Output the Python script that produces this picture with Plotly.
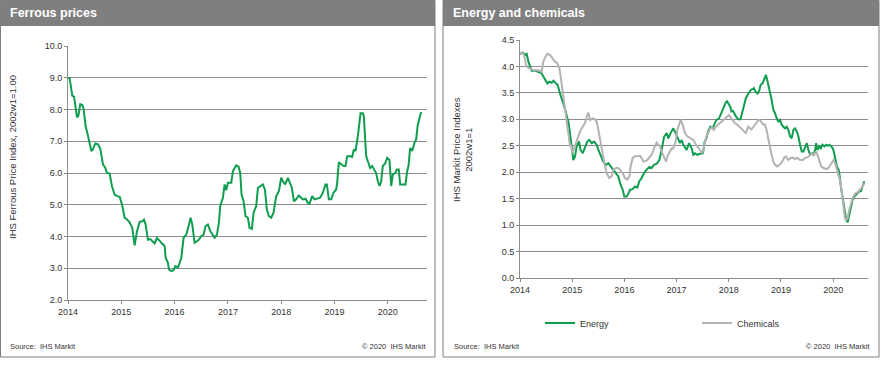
import plotly.graph_objects as go

# ---------------- data ----------------
ferrous_year = [
    2014.000, 2014.031, 2014.081, 2014.113, 2014.169, 2014.194, 2014.231, 2014.269, 2014.294, 2014.331,
    2014.375, 2014.438, 2014.469, 2014.513, 2014.563, 2014.606, 2014.656, 2014.700, 2014.731, 2014.781,
    2014.825, 2014.875, 2014.919, 2014.969, 2015.013, 2015.063, 2015.094, 2015.156, 2015.206, 2015.250,
    2015.294, 2015.344, 2015.394, 2015.425, 2015.456, 2015.500, 2015.544, 2015.594, 2015.625, 2015.669,
    2015.719, 2015.769, 2015.813, 2015.831, 2015.875, 2015.894, 2015.938, 2015.981, 2016.013, 2016.063,
    2016.094, 2016.125, 2016.169, 2016.219, 2016.263, 2016.300, 2016.331, 2016.375, 2016.419, 2016.456,
    2016.500, 2016.544, 2016.581, 2016.625, 2016.669, 2016.719, 2016.750, 2016.794, 2016.831, 2016.856,
    2016.906, 2016.938, 2016.969, 2017.000, 2017.063, 2017.094, 2017.156, 2017.200, 2017.231, 2017.256,
    2017.294, 2017.331, 2017.375, 2017.406, 2017.450, 2017.481, 2017.531, 2017.563, 2017.606, 2017.656,
    2017.694, 2017.731, 2017.769, 2017.813, 2017.856, 2017.906, 2017.956, 2018.000, 2018.031, 2018.075,
    2018.125, 2018.156, 2018.200, 2018.238, 2018.281, 2018.331, 2018.375, 2018.406, 2018.456, 2018.500,
    2018.531, 2018.581, 2018.625, 2018.688, 2018.731, 2018.781, 2018.831, 2018.856, 2018.894, 2018.938,
    2018.981, 2019.031, 2019.050, 2019.081, 2019.125, 2019.169, 2019.206, 2019.238, 2019.281, 2019.331,
    2019.363, 2019.394, 2019.438, 2019.469, 2019.488, 2019.531, 2019.550, 2019.575, 2019.594, 2019.625,
    2019.669, 2019.706, 2019.750, 2019.781, 2019.813, 2019.844, 2019.875, 2019.906, 2019.950, 2019.988,
    2020.031, 2020.063, 2020.094, 2020.138, 2020.169, 2020.206, 2020.231, 2020.281, 2020.331, 2020.363,
    2020.388, 2020.419, 2020.456, 2020.500, 2020.531, 2020.563, 2020.594, 2020.625,
]
ferrous_value = [
    9.00, 8.98, 8.43, 8.41, 7.75, 7.80, 8.17, 8.14, 8.01, 7.47,
    7.17, 6.69, 6.75, 6.93, 6.90, 6.76, 6.27, 6.16, 6.00, 5.98,
    5.58, 5.32, 5.27, 5.25, 5.01, 4.59, 4.56, 4.45, 4.27, 3.72,
    4.16, 4.46, 4.48, 4.53, 4.38, 3.90, 3.92, 3.83, 3.78, 3.96,
    3.85, 3.77, 3.70, 3.33, 3.17, 2.96, 2.91, 2.94, 3.07, 3.03,
    3.17, 3.33, 3.96, 4.06, 4.33, 4.59, 4.38, 3.80, 3.85, 3.90,
    4.01, 4.06, 4.33, 4.38, 4.17, 4.06, 3.96, 4.06, 4.43, 4.96,
    5.22, 5.64, 5.46, 5.69, 5.69, 6.06, 6.24, 6.20, 6.00, 5.32,
    5.11, 4.64, 4.59, 4.27, 4.24, 4.75, 4.96, 5.53, 5.59, 5.64,
    5.48, 4.85, 4.64, 4.59, 4.75, 5.27, 5.43, 5.85, 5.74, 5.64,
    5.85, 5.74, 5.53, 5.11, 5.17, 5.29, 5.22, 5.17, 5.19, 5.06,
    5.04, 5.27, 5.17, 5.19, 5.22, 5.38, 5.64, 5.64, 5.17, 5.17,
    5.38, 5.48, 5.69, 6.34, 6.27, 6.22, 6.22, 6.53, 6.53, 6.51,
    6.74, 6.69, 7.16, 7.53, 7.88, 7.88, 7.79, 7.06, 6.53, 6.37,
    6.16, 6.22, 6.06, 6.00, 5.74, 5.59, 5.74, 6.22, 6.30, 6.48,
    6.41, 5.59, 5.95, 6.00, 6.11, 6.11, 5.64, 5.64, 5.64, 6.06,
    6.22, 6.79, 6.69, 6.95, 7.06, 7.53, 7.74, 7.92,
]

energy_year = [
    2014.000, 2014.051, 2014.096, 2014.128, 2014.160, 2014.192, 2014.224, 2014.287, 2014.351, 2014.415,
    2014.447, 2014.492, 2014.524, 2014.562, 2014.607, 2014.639, 2014.683, 2014.722, 2014.766, 2014.811,
    2014.849, 2014.881, 2014.926, 2014.958, 2014.990, 2015.022, 2015.054, 2015.086, 2015.130, 2015.162,
    2015.201, 2015.245, 2015.290, 2015.328, 2015.373, 2015.418, 2015.469, 2015.501, 2015.545, 2015.596,
    2015.648, 2015.692, 2015.737, 2015.788, 2015.839, 2015.884, 2015.929, 2015.967, 2015.999, 2016.043,
    2016.075, 2016.107, 2016.158, 2016.203, 2016.248, 2016.286, 2016.331, 2016.375, 2016.427, 2016.478,
    2016.522, 2016.567, 2016.618, 2016.669, 2016.714, 2016.759, 2016.810, 2016.842, 2016.886, 2016.937,
    2016.982, 2017.033, 2017.065, 2017.097, 2017.129, 2017.193, 2017.238, 2017.289, 2017.321, 2017.352,
    2017.397, 2017.448, 2017.506, 2017.538, 2017.571, 2017.603, 2017.647, 2017.686, 2017.731, 2017.763,
    2017.814, 2017.840, 2017.878, 2017.904, 2017.942, 2017.968, 2018.006, 2018.032, 2018.051, 2018.083,
    2018.128, 2018.179, 2018.224, 2018.263, 2018.295, 2018.327, 2018.359, 2018.391, 2018.423, 2018.455,
    2018.481, 2018.513, 2018.551, 2018.583, 2018.609, 2018.647, 2018.673, 2018.712, 2018.737, 2018.769,
    2018.801, 2018.821, 2018.853, 2018.885, 2018.917, 2018.949, 2018.981, 2019.013, 2019.045, 2019.077,
    2019.109, 2019.141, 2019.173, 2019.205, 2019.237, 2019.269, 2019.301, 2019.333, 2019.365, 2019.397,
    2019.429, 2019.462, 2019.494, 2019.526, 2019.558, 2019.590, 2019.622, 2019.654, 2019.673, 2019.699,
    2019.731, 2019.763, 2019.795, 2019.833, 2019.865, 2019.897, 2019.929, 2019.962, 2019.994, 2020.019,
    2020.051, 2020.071, 2020.103, 2020.122, 2020.147, 2020.179, 2020.212, 2020.244, 2020.276, 2020.308,
    2020.340, 2020.372, 2020.404, 2020.436, 2020.468, 2020.500, 2020.532, 2020.564, 2020.596,
]
energy_value = [
    4.24, 4.26, 4.22, 4.24, 4.09, 3.99, 3.92, 3.92, 3.90, 3.87,
    3.81, 3.74, 3.68, 3.71, 3.69, 3.73, 3.68, 3.65, 3.49, 3.37,
    3.24, 3.12, 2.96, 2.74, 2.52, 2.23, 2.30, 2.49, 2.58, 2.42,
    2.36, 2.49, 2.58, 2.61, 2.55, 2.58, 2.52, 2.42, 2.30, 2.20,
    2.14, 2.17, 2.11, 2.05, 1.98, 1.92, 1.76, 1.67, 1.54, 1.54,
    1.59, 1.67, 1.68, 1.73, 1.71, 1.83, 1.89, 1.98, 2.05, 2.10,
    2.08, 2.14, 2.16, 2.23, 2.42, 2.67, 2.74, 2.64, 2.74, 2.83,
    2.74, 2.64, 2.55, 2.61, 2.52, 2.42, 2.55, 2.45, 2.33, 2.36,
    2.33, 2.35, 2.36, 2.58, 2.64, 2.77, 2.86, 2.83, 2.93, 2.99,
    3.02, 3.08, 3.18, 3.24, 3.32, 3.34, 3.27, 3.23, 3.15, 3.16,
    3.07, 3.00, 3.00, 3.15, 3.27, 3.40, 3.46, 3.52, 3.56, 3.57,
    3.59, 3.52, 3.49, 3.54, 3.65, 3.68, 3.74, 3.84, 3.74, 3.62,
    3.46, 3.37, 3.18, 3.12, 3.02, 2.96, 2.99, 2.90, 2.86, 2.83,
    2.86, 2.80, 2.68, 2.64, 2.80, 2.83, 2.77, 2.68, 2.52, 2.39,
    2.39, 2.49, 2.55, 2.42, 2.33, 2.36, 2.33, 2.42, 2.55, 2.42,
    2.49, 2.45, 2.52, 2.49, 2.52, 2.50, 2.52, 2.49, 2.45, 2.36,
    2.20, 2.11, 2.05, 1.95, 1.73, 1.51, 1.29, 1.13, 1.05, 1.20,
    1.35, 1.48, 1.54, 1.57, 1.61, 1.64, 1.64, 1.73, 1.83,
]

chemicals_year = [
    2014.000, 2014.032, 2014.077, 2014.115, 2014.160, 2014.204, 2014.268, 2014.319, 2014.383, 2014.415,
    2014.447, 2014.492, 2014.524, 2014.575, 2014.626, 2014.671, 2014.715, 2014.754, 2014.779, 2014.811,
    2014.843, 2014.881, 2014.907, 2014.939, 2014.958, 2014.977, 2015.003, 2015.034, 2015.073, 2015.117,
    2015.162, 2015.201, 2015.245, 2015.277, 2015.309, 2015.341, 2015.392, 2015.437, 2015.469, 2015.501,
    2015.533, 2015.564, 2015.596, 2015.628, 2015.660, 2015.711, 2015.756, 2015.788, 2015.839, 2015.884,
    2015.916, 2015.967, 2016.011, 2016.056, 2016.095, 2016.120, 2016.158, 2016.203, 2016.248, 2016.299,
    2016.331, 2016.363, 2016.427, 2016.478, 2016.522, 2016.567, 2016.618, 2016.650, 2016.682, 2016.714,
    2016.759, 2016.797, 2016.822, 2016.861, 2016.905, 2016.937, 2016.982, 2017.014, 2017.052, 2017.078,
    2017.116, 2017.161, 2017.193, 2017.244, 2017.289, 2017.321, 2017.372, 2017.416, 2017.448, 2017.494,
    2017.538, 2017.571, 2017.603, 2017.647, 2017.679, 2017.712, 2017.750, 2017.795, 2017.840, 2017.878,
    2017.923, 2017.968, 2018.006, 2018.032, 2018.071, 2018.115, 2018.160, 2018.212, 2018.256, 2018.295,
    2018.327, 2018.372, 2018.404, 2018.436, 2018.468, 2018.500, 2018.532, 2018.564, 2018.596, 2018.628,
    2018.660, 2018.692, 2018.724, 2018.756, 2018.788, 2018.821, 2018.853, 2018.885, 2018.929, 2018.968,
    2019.013, 2019.058, 2019.096, 2019.141, 2019.186, 2019.224, 2019.269, 2019.314, 2019.365, 2019.417,
    2019.462, 2019.506, 2019.545, 2019.590, 2019.635, 2019.673, 2019.699, 2019.737, 2019.769, 2019.814,
    2019.865, 2019.910, 2019.942, 2019.974, 2020.006, 2020.038, 2020.071, 2020.103, 2020.135, 2020.167,
    2020.199, 2020.224, 2020.244, 2020.276, 2020.308, 2020.340, 2020.372, 2020.404, 2020.436, 2020.468,
    2020.500, 2020.532, 2020.564, 2020.596,
]
chemicals_value = [
    4.22, 4.26, 4.22, 4.03, 3.97, 3.95, 3.93, 3.93, 3.92, 3.90,
    4.09, 4.19, 4.24, 4.22, 4.15, 4.09, 4.06, 3.97, 3.81, 3.59,
    3.34, 3.12, 2.93, 2.64, 2.49, 2.52, 2.36, 2.45, 2.55, 2.67,
    2.80, 2.86, 2.93, 3.04, 3.13, 2.99, 3.02, 3.00, 2.96, 2.80,
    2.61, 2.45, 2.27, 2.11, 1.98, 1.89, 1.92, 2.05, 2.08, 2.08,
    2.05, 1.98, 1.89, 1.86, 1.92, 2.11, 2.27, 2.30, 2.30, 2.31,
    2.27, 2.20, 2.22, 2.27, 2.33, 2.45, 2.56, 2.52, 2.49, 2.39,
    2.27, 2.20, 2.30, 2.36, 2.45, 2.45, 2.58, 2.80, 2.94, 2.99,
    2.90, 2.74, 2.69, 2.66, 2.64, 2.61, 2.52, 2.45, 2.42, 2.36,
    2.55, 2.68, 2.74, 2.83, 2.85, 2.80, 2.86, 2.90, 2.93, 2.96,
    3.00, 3.05, 3.08, 3.04, 2.99, 2.93, 2.90, 2.86, 2.81, 2.77,
    2.74, 2.86, 2.83, 2.81, 2.85, 2.90, 2.93, 2.98, 2.99, 2.94,
    2.90, 2.90, 2.80, 2.64, 2.45, 2.33, 2.20, 2.14, 2.11, 2.14,
    2.18, 2.27, 2.30, 2.23, 2.27, 2.28, 2.25, 2.27, 2.23, 2.23,
    2.27, 2.28, 2.31, 2.36, 2.33, 2.39, 2.33, 2.20, 2.11, 2.08,
    2.06, 2.08, 2.14, 2.20, 2.23, 2.17, 2.05, 1.98, 1.83, 1.61,
    1.35, 1.13, 1.09, 1.13, 1.29, 1.42, 1.51, 1.57, 1.61, 1.62,
    1.66, 1.68, 1.73, 1.79,
]

year_ticks = [2014, 2015, 2016, 2017, 2018, 2019, 2020]
ferrous_ticks = [2.0, 3.0, 4.0, 5.0, 6.0, 7.0, 8.0, 9.0, 10.0]
energy_ticks = [0.0, 0.5, 1.0, 1.5, 2.0, 2.5, 3.0, 3.5, 4.0, 4.5]

# ---------------- figure ----------------
W, H = 885, 366
def px(x):
    return x / W
def py(y):
    return 1 - y / H

GREEN = "#0f9d4f"
GREY_LINE = "#b3b3b3"
GRID = "#8c8c8c"
FONT = "Liberation Sans, Arial, sans-serif"

fig = go.Figure()
fig.add_trace(go.Scatter(x=ferrous_year, y=ferrous_value, mode="lines",
                         line=dict(color=GREEN, width=2), xaxis="x", yaxis="y",
                         showlegend=False, name="Ferrous"))
fig.add_trace(go.Scatter(x=energy_year, y=energy_value, mode="lines",
                         line=dict(color=GREEN, width=2), xaxis="x2", yaxis="y2",
                         name="Energy", legendrank=1))
fig.add_trace(go.Scatter(x=chemicals_year, y=chemicals_value, mode="lines",
                         line=dict(color=GREY_LINE, width=2), xaxis="x2", yaxis="y2",
                         name="Chemicals", legendrank=2))

axis_common = dict(showgrid=False, showline=True, linecolor=GRID, linewidth=1,
                   ticks="outside", ticklen=3, tickcolor=GRID, zeroline=False,
                   automargin=False,
                   tickfont=dict(family=FONT, size=9, color="#333333"))
grid_axis = {**axis_common, "showgrid": True, "gridcolor": GRID, "gridwidth": 1}

fig.update_layout(
    width=W, height=H, margin=dict(l=0, r=0, t=0, b=0, pad=0, autoexpand=False),
    paper_bgcolor="white", plot_bgcolor="white",
    font=dict(family=FONT, size=9, color="#333333"),
    xaxis=dict(domain=[px(68), px(427)], range=[2014, 2020.735], tickvals=year_ticks,
               anchor="y", **axis_common),
    yaxis=dict(domain=[py(300), py(46)], range=[2, 10], tickvals=ferrous_ticks,
               tickformat=".1f", anchor="x", **grid_axis),
    xaxis2=dict(domain=[px(520), px(868)], range=[2014, 2020.667], tickvals=year_ticks,
                anchor="y2", **axis_common),
    yaxis2=dict(domain=[py(278), py(40)], range=[0, 4.5], tickvals=energy_ticks,
                tickformat=".1f", anchor="x2", **grid_axis),
    legend=dict(orientation="h", x=px(540), y=py(323), xanchor="left", yanchor="middle",
                entrywidth=112, entrywidthmode="pixels", traceorder="normal",
                font=dict(family=FONT, size=9, color="#333333"),
                bgcolor="rgba(0,0,0,0)", itemwidth=30),
)

shapes = []
# panel frames and headers
for x0, x1 in [(0.5, 435), (443, 879)]:
    shapes.append(dict(type="rect", xref="paper", yref="paper", x0=px(x0), x1=px(x1),
                       y0=py(357), y1=py(0.5), line=dict(color="#7f7f7f", width=1),
                       fillcolor="rgba(0,0,0,0)", layer="below"))
    shapes.append(dict(type="rect", xref="paper", yref="paper", x0=px(x0), x1=px(x1),
                       y0=py(26), y1=py(0), line=dict(width=0), fillcolor="#7f7f7f",
                       layer="below"))
fig.update_layout(shapes=shapes)

ann = []
ann.append(dict(text="<b>Ferrous prices</b>", x=px(8), y=py(13), xref="paper", yref="paper",
                xanchor="left", yanchor="middle", showarrow=False,
                font=dict(family=FONT, size=12.5, color="white")))
ann.append(dict(text="<b>Energy and chemicals</b>", x=px(451), y=py(13), xref="paper",
                yref="paper", xanchor="left", yanchor="middle", showarrow=False,
                font=dict(family=FONT, size=12.5, color="white")))
ann.append(dict(text="IHS Ferrous Price Index, 2002w1=1.00", x=px(13), y=py(157),
                xref="paper", yref="paper", textangle=-90, showarrow=False,
                xanchor="center", yanchor="middle",
                font=dict(family=FONT, size=9.5, color="#333333")))
ann.append(dict(text="IHS Markit Price Indexes<br>2002w1=1", x=px(462), y=py(150),
                xref="paper", yref="paper", textangle=-90, showarrow=False,
                xanchor="center", yanchor="middle",
                font=dict(family=FONT, size=9.5, color="#333333")))
for sx, cx in [(8, 428), (452, 872)]:
    ann.append(dict(text="Source:  IHS Markit", x=px(sx), y=py(346), xref="paper",
                    yref="paper", xanchor="left", yanchor="middle", showarrow=False,
                    font=dict(family=FONT, size=7.5, color="#333333")))
    ann.append(dict(text="© 2020  IHS Markit", x=px(cx), y=py(346), xref="paper",
                    yref="paper", xanchor="right", yanchor="middle", showarrow=False,
                    font=dict(family=FONT, size=7.5, color="#333333")))
fig.update_layout(annotations=ann)

page_fix = ("document.documentElement.style.margin='0';"
            "document.body.style.margin='0';document.body.style.padding='0';"
            "document.body.style.overflow='hidden';")
fig.write_html("out.html", post_script=page_fix, config={"displayModeBar": False})
